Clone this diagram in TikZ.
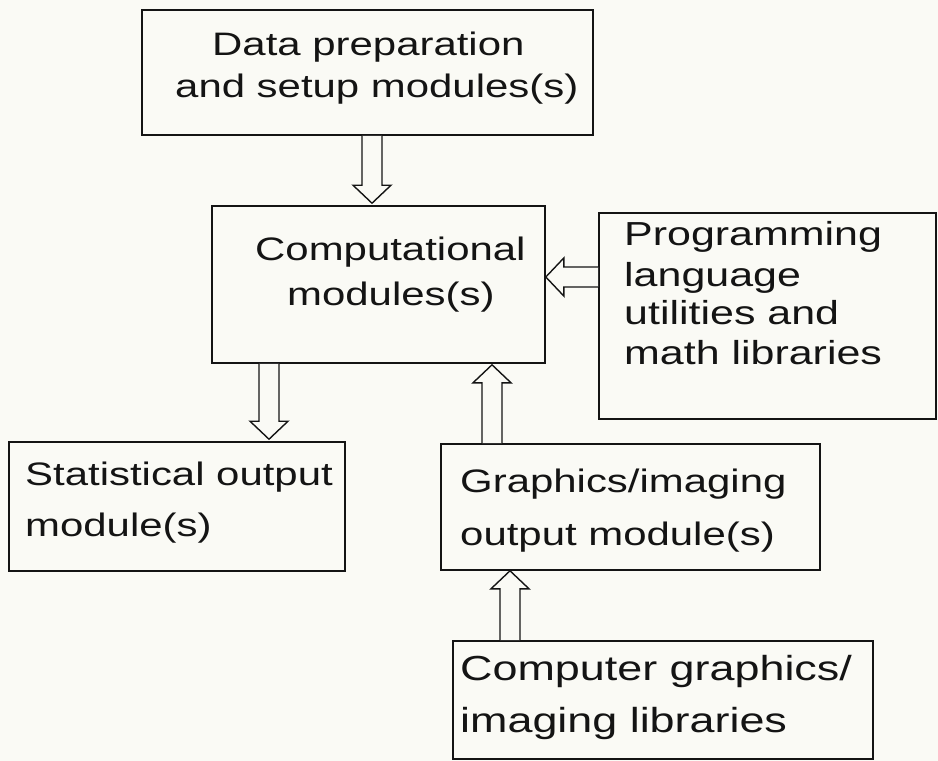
\documentclass[tikz,border=0pt]{standalone}
\usepackage{fontspec}
\setmainfont{Liberation Sans}[FakeStretch=1.29]
\usetikzlibrary{calc}
\definecolor{paper}{RGB}{250,250,245}
\definecolor{ink}{RGB}{20,20,20}
\tikzset{
  box/.style={draw=ink, line width=1.6pt, inner sep=0pt, rectangle},
  txt/.style={inner sep=0pt, anchor=base west, text=ink, font=\fontsize{32.5}{39}\selectfont},
  txtbig/.style={txt, font=\fontsize{34.8}{42}\selectfont},
  txtmid/.style={txt, font=\fontsize{33.3}{40}\selectfont},
  blkarrow/.style={draw=ink, line width=1.4pt, fill=paper, line join=miter},
}
% #1 start point, #2 tip point
\newcommand\hollowarrow[2]{%
  \coordinate (hb) at ($(#2)!18pt!(#1)$);
  \draw[blkarrow] ($(#1)!10pt!90:(#2)$) -- ($(hb)!10pt!90:(#2)$) -- ($(hb)!19pt!90:(#2)$)
     -- (#2) -- ($(hb)!19pt!-90:(#2)$) -- ($(hb)!10pt!-90:(#2)$) -- ($(#1)!10pt!-90:(#2)$);
}
\begin{document}
\begin{tikzpicture}[x=1pt,y=-1pt]
\fill[paper] (0,0) rectangle (938,761);
\useasboundingbox (0,0) rectangle (938,761);

% boxes
\node[box, minimum width=451pt, minimum height=125pt] (b1) at (367.5,72.5) {};
\node[box, minimum width=333pt, minimum height=157pt] (b2) at (378.5,284.5) {};
\node[box, minimum width=337pt, minimum height=206pt] (b3) at (767.5,316) {};
\node[box, minimum width=336pt, minimum height=129pt] (b4) at (177,506.5) {};
\node[box, minimum width=379pt, minimum height=126pt] (b5) at (630.5,507) {};
\node[box, minimum width=420pt, minimum height=118pt] (b6) at (663,700) {};

% texts
\node[txt] (t1a) at (212,55) {Data preparation};
\node[txt] (t1b) at (175,97) {and setup modules(s)};
\node[txt] (t2a) at (255,260) {Computational};
\node[txt] (t2b) at (287,305) {modules(s)};
\node[txtmid] (t3a) at (624,245) {Programming};
\node[txtmid] (t3b) at (624,286) {language};
\node[txtmid] (t3c) at (624,324) {utilities and};
\node[txtmid] (t3d) at (624,364) {math libraries};
\node[txt] (t4a) at (25,485) {Statistical output};
\node[txt] (t4b) at (25,536) {module(s)};
\node[txt] (t5a) at (460,492) {Graphics/imaging};
\node[txt] (t5b) at (460,545) {output module(s)};
\node[txtbig] (t6a) at (460,680) {Computer graphics/};
\node[txtbig] (t6b) at (460,732) {imaging libraries};

% arrow guide coordinates
\coordinate (x1) at (372,0);
\coordinate (y2) at (0,277);
\coordinate (x3) at (269,0);
\coordinate (x4) at (492,0);
\coordinate (x5) at (510,0);

\coordinate (s1) at (b1.south -| x1); \coordinate (e1) at ($(b2.north -| x1)+(0,-2)$);
\coordinate (s2) at (b3.west |- y2);  \coordinate (e2) at (b2.east |- y2);
\coordinate (s3) at (b2.south -| x3); \coordinate (e3) at ($(b4.north -| x3)+(0,-2)$);
\coordinate (s4) at (b5.north -| x4); \coordinate (e4) at ($(b2.south -| x4)+(0,1)$);
\coordinate (s5) at (b6.north -| x5); \coordinate (e5) at (b5.south -| x5);

\hollowarrow{s1}{e1}
\hollowarrow{s2}{e2}
\hollowarrow{s3}{e3}
\hollowarrow{s4}{e4}
\hollowarrow{s5}{e5}
\end{tikzpicture}
\end{document}
